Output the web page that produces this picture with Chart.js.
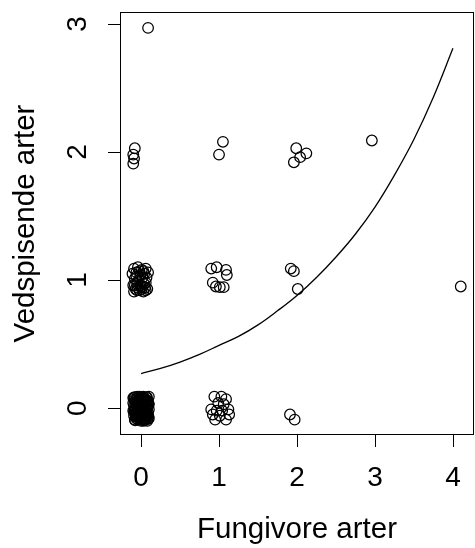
<!DOCTYPE html>
<html>
<head>
<meta charset="utf-8">
<script src="https://cdn.jsdelivr.net/npm/chart.js@4"></script>
<style>
  html, body { margin: 0; padding: 0; background: #fff; }
</style>
</head>
<body>
<canvas id="plot" width="475" height="548"></canvas>
<script>
// axis ticks
const xTicks = [0, 1, 2, 3, 4];
const yTicks = [0, 1, 2, 3];

// observations: number of fungivore species vs wood-eating species (jittered)
const fungivore = [
  // 0 / 0
  -0.09, -0.05, -0.01, 0.03, 0.07, 0.10,
  -0.10, -0.06, -0.02, 0.02, 0.06, 0.09,
  -0.08, -0.04, 0.00, 0.04, 0.08, 0.10,
  -0.10, -0.06, -0.02, 0.02, 0.06, 0.09,
  -0.09, -0.05, -0.01, 0.03, 0.07, 0.10,
  -0.08, -0.04, 0.00, 0.04, 0.08,
  -0.07, 0.01, 0.05, -0.03, 0.05, -0.07, 0.08,
  -0.08, -0.03, 0.02, 0.06, -0.09, -0.05, 0.03, 0.07, -0.07, -0.01,
  0.04, 0.08, -0.06, 0.02, 0.06, -0.02, 0.09, -0.09, 0.00, 0.01,
  -0.03, 0.05, -0.05, 0.03, -0.10, 0.10, -0.04, 0.07,
  -0.085, -0.045, -0.005, 0.035, 0.075, -0.065, -0.025, 0.015, 0.055, 0.095,
  -0.085, -0.045, -0.005, 0.035, 0.075, -0.065, -0.025, 0.015, 0.055, 0.095,
  -0.075, -0.035, 0.005, 0.045, 0.085,
  // 0 / 1
  -0.09, -0.04, 0.01, 0.06, -0.11, -0.06, -0.01, 0.04, 0.09, -0.08, -0.03,
  0.02, -0.10, -0.05, 0.00, 0.05, -0.09, -0.02, 0.03, 0.08, 0.06,
  -0.07, 0.01, 0.06, -0.04, -0.06, 0.03, -0.02, 0.07,
  -0.08, -0.01, 0.04, -0.05, 0.02,
  // 0 / 2, 0 / 3
  -0.08, -0.10, -0.09, -0.10, 0.09,
  // 1 / 0
  0.94, 1.03, 1.09, 0.99, 1.06, 0.90, 0.97, 1.04, 1.12, 0.92, 1.01, 1.09, 0.95, 1.13,
  // 1 / 1
  0.90, 0.97, 1.09, 1.10, 0.92, 0.96, 1.01, 1.06,
  // 1 / 2
  1.05, 1.00,
  // 2 / 0, 2 / 1, 2 / 2
  1.91, 1.97, 1.92, 1.96, 2.01, 1.99, 2.04, 2.12, 1.96,
  // 3 / 2, 4 / 1
  2.96, 4.10
];
const vedspisende = [
  0.08, 0.09, 0.07, 0.09, 0.08, 0.09,
  0.04, 0.05, 0.03, 0.05, 0.04, 0.05,
  0.01, 0.00, 0.02, 0.00, 0.01, -0.01,
  -0.02, -0.03, -0.02, -0.03, -0.02, -0.04,
  -0.06, -0.05, -0.07, -0.06, -0.07, -0.08,
  -0.09, -0.09, -0.10, -0.09, -0.10,
  0.06, 0.08, 0.02, -0.04, -0.08, -0.01, 0.06,
  0.07, 0.06, 0.07, 0.06, 0.02, 0.02, 0.03, 0.02, -0.04, -0.04,
  -0.04, -0.05, -0.08, -0.08, -0.09, 0.09, 0.02, -0.03, 0.05, -0.01,
  0.01, 0.07, -0.07, -0.10, 0.08, 0.03, 0.04, -0.03,
  0.085, 0.075, 0.085, 0.075, 0.085, 0.035, 0.045, 0.035, 0.045, 0.035,
  -0.015, -0.005, -0.025, -0.015, -0.005, -0.055, -0.065, -0.045, -0.055, -0.065,
  -0.095, -0.075, -0.085, -0.095, -0.085,
  1.09, 1.10, 1.08, 1.09, 1.05, 1.06, 1.04, 1.05, 1.06, 1.01, 1.00,
  1.02, 0.96, 0.97, 0.95, 0.94, 0.91, 0.92, 0.91, 0.93, 0.98,
  0.93, 0.93, 0.92, 0.94, 1.03, 1.07, 1.07, 1.02,
  0.96, 0.96, 0.97, 0.92, 0.95,
  2.03, 1.98, 1.95, 1.91, 2.97,
  0.09, 0.09, 0.07, 0.04, 0.03, -0.01, -0.02, -0.02, -0.01, -0.05, -0.06, -0.09, -0.09, -0.05,
  1.09, 1.10, 1.08, 1.04, 0.98, 0.95, 0.945, 0.945,
  2.08, 1.98,
  -0.05, -0.09, 1.09, 1.07, 0.93, 2.03, 1.96, 1.99, 1.92,
  2.09, 0.95
];

// fitted curve, read at steps of 0.25
const curveX = [0, 0.25, 0.5, 0.75, 1, 1.25, 1.5, 1.75, 2, 2.25, 2.5, 2.75, 3, 3.25, 3.5, 3.75, 4];
const curveY = [0.27, 0.31, 0.36, 0.42, 0.49, 0.56, 0.65, 0.76, 0.88, 1.02, 1.18, 1.36, 1.57, 1.82, 2.10, 2.43, 2.81];

const FONT = "'Liberation Sans', Arial, Helvetica, sans-serif";
const TICK_LEN = 12;

// box around the plot region plus outward tick marks
const rAxes = {
  id: 'rAxes',
  afterDraw(chart) {
    const { ctx, chartArea: a, scales } = chart;
    ctx.save();
    ctx.strokeStyle = '#000';
    ctx.lineWidth = 1;
    ctx.strokeRect(a.left + 0.5, a.top + 0.5, a.right - a.left - 1, a.bottom - a.top - 1);
    ctx.beginPath();
    xTicks.forEach(v => {
      const px = Math.round(scales.x.getPixelForValue(v)) + 0.5;
      ctx.moveTo(px, a.bottom);
      ctx.lineTo(px, a.bottom + TICK_LEN);
    });
    yTicks.forEach(v => {
      const py = Math.round(scales.y.getPixelForValue(v)) + 0.5;
      ctx.moveTo(a.left, py);
      ctx.lineTo(a.left - TICK_LEN, py);
    });
    ctx.stroke();
    ctx.restore();
  }
};

const ctx = document.getElementById('plot').getContext('2d');
const chart = new Chart(ctx, {
  type: 'scatter',
  data: {
    datasets: [{
      label: 'obs',
      data: fungivore.map((x, i) => ({ x: x, y: vedspisende[i] })),
      pointStyle: 'circle',
      pointRadius: 5.3,
      pointBorderWidth: 1.25,
      pointBorderColor: '#000',
      pointBackgroundColor: 'rgba(0,0,0,0)',
      showLine: false
    }, {
      label: 'fit',
      data: curveX.map((x, i) => ({ x: x, y: curveY[i] })),
      showLine: true,
      borderColor: '#000',
      borderWidth: 1.3,
      pointRadius: 0,
      tension: 0.4,
      fill: false
    }]
  },
  options: {
    responsive: false,
    animation: false,
    layout: { autoPadding: false, padding: { top: 12, right: 1, left: 0, bottom: 0 } },
    plugins: {
      legend: { display: false },
      tooltip: { enabled: false }
    },
    scales: {
      x: {
        type: 'linear',
        min: -0.27,
        max: 4.27,
        grid: { display: false },
        border: { display: false },
        afterBuildTicks: s => { s.ticks = xTicks.map(v => ({ value: v })); },
        afterFit: s => {
          s.height = 113;
          s.paddingLeft = 0;
          s.paddingRight = 0;
        },
        ticks: {
          color: '#000',
          padding: 18,
          maxRotation: 0,
          font: { family: FONT, size: 28 }
        },
        title: {
          display: true,
          text: 'Fungivore arter',
          color: '#000',
          padding: { bottom: 0 },
          font: { family: FONT, size: 29.5 }
        }
      },
      y: {
        type: 'linear',
        min: -0.21,
        max: 3.094,
        grid: { display: false },
        border: { display: false },
        afterBuildTicks: s => { s.ticks = yTicks.map(v => ({ value: v })); },
        afterFit: s => {
          s.width = 120;
          s.paddingTop = 0;
          s.paddingBottom = 0;
        },
        ticks: {
          color: '#000',
          padding: 26,
          minRotation: 90,
          maxRotation: 90,
          crossAlign: 'center',
          font: { family: FONT, size: 28 }
        },
        title: {
          display: true,
          text: 'Vedspisende arter',
          color: '#000',
          padding: { top: 8 },
          font: { family: FONT, size: 29.5 }
        }
      }
    }
  },
  plugins: [rAxes]
});
</script>
</body>
</html>
